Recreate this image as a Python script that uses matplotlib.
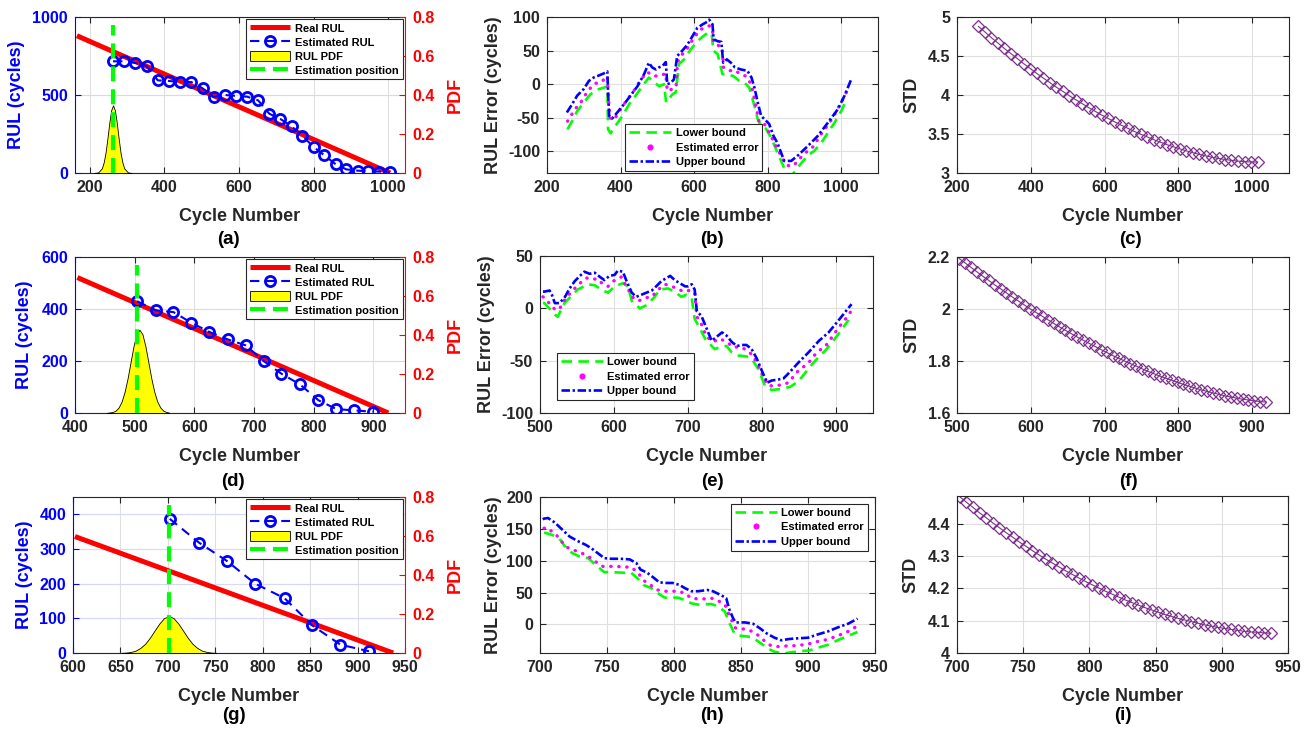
import matplotlib
matplotlib.use('Agg')
import matplotlib.pyplot as plt
from matplotlib.ticker import FuncFormatter
from matplotlib.lines import Line2D

# ---------------- data ----------------
# (a)
real_a_x = [165, 1005]
real_a_y = [880, 0]
est_a_x = [262, 292, 322, 352, 382, 412, 442, 472, 502, 532, 562, 592, 622, 651, 681,
           711, 741, 770, 800, 829, 859, 888, 918, 947, 976, 1005]
est_a_y = [716, 716, 705, 686, 594, 590, 583, 583, 543, 487, 500, 494, 489, 466, 380,
           346, 299, 237, 167, 113, 56, 23, 15, 11, 9, 4]
pdf_a_x = [212, 222, 232, 237, 242, 247, 252, 257, 262, 267, 272, 277, 282, 287, 292, 302, 312]
pdf_a_y = [0.0002, 0.003, 0.024, 0.055, 0.106, 0.178, 0.258, 0.322, 0.347, 0.322, 0.258,
           0.178, 0.106, 0.055, 0.024, 0.003, 0.0002]
pos_a = 262

# (d)
real_d_x = [404, 925]
real_d_y = [521, 0]
est_d_x = [504, 535, 565, 595, 625, 656, 686, 716, 746, 777, 808, 838, 868, 899]
est_d_y = [430, 395, 388, 347, 312, 283, 260, 200, 151, 110, 49, 15, 10, 5]
pdf_d_x = [453, 463, 468, 473, 478, 483, 488, 493, 498, 503, 508, 513, 518, 523, 528,
           533, 538, 543, 548, 553, 558]
pdf_d_y = [0.0005, 0.005, 0.012, 0.028, 0.058, 0.107, 0.176, 0.259, 0.342, 0.404, 0.427,
           0.404, 0.342, 0.259, 0.176, 0.107, 0.058, 0.028, 0.012, 0.005, 0.0016]
pos_d = 504

# (g)
real_g_x = [602, 937.5]
real_g_y = [336, 0]
est_g_x = [702, 733, 762, 792, 823, 852, 882, 912]
est_g_y = [387, 318, 266, 200, 158, 80, 24, 5]
pdf_g_x = [651, 656, 661, 666, 671, 676, 681, 686, 691, 696, 701, 706, 711, 716, 721,
           726, 731, 736, 741, 746, 751]
pdf_g_y = [0.0007, 0.0021, 0.0054, 0.012, 0.026, 0.047, 0.078, 0.115, 0.151, 0.179, 0.189,
           0.179, 0.151, 0.115, 0.078, 0.047, 0.026, 0.012, 0.0054, 0.0021, 0.0007]
pos_g = 701

# (b)
ub_b_x = [254, 268, 282, 300, 314, 327, 341, 354, 364, 366, 369, 377, 391, 409, 427, 446,
          464, 477, 486, 496, 504, 514, 523, 527, 536, 545, 554, 568, 582, 595, 609, 623,
          636, 641, 650, 653, 664, 674, 679, 689, 700, 711, 727, 745, 756, 764, 773, 782,
          795, 804, 816, 827, 838, 845, 864, 882, 909, 936, 964, 991, 1009, 1027]
ub_b_y = [-42, -30, -17, -7, 5, 10, 13, 16, 19, -12, -47, -51, -42, -30, -17, -3, 15, 32,
          25, 22, 25, 27, 33, 0, 2, 7, 42, 50, 59, 71, 84, 89, 93, 96, 89, 67, 64, 63, 32,
          37, 32, 25, 22, 20, 10, -5, -27, -47, -54, -59, -77, -88, -104, -114, -114, -106,
          -92, -77, -57, -37, -17, 7]
est_b_x = [256, 275, 293, 311, 329, 347, 364, 367, 371, 382, 400, 418, 436, 455, 473, 491,
           509, 523, 527, 546, 551, 555, 564, 580, 598, 616, 636, 643, 650, 653, 668, 676,
           680, 696, 709, 727, 741, 755, 764, 777, 791, 809, 827, 841, 853, 871, 886, 909,
           926, 941, 959, 977, 1000, 1014]
est_b_y = [-55, -38, -26, -10, 1, 3, 12, -20, -50, -53, -37, -23, -10, 7, 18, 12, 13, 16,
           -10, -6, -4, 33, 42, 52, 68, 81, 86, 87, 80, 62, 57, 55, 25, 20, 21, 15, 12, 0,
           -22, -57, -59, -77, -97, -111, -121, -121, -111, -99, -92, -77, -64, -50, -27, -12]
lb_b_x = [256, 271, 282, 300, 318, 336, 355, 364, 366, 373, 386, 405, 423, 441, 459, 477,
          491, 505, 518, 524, 541, 550, 559, 573, 591, 609, 626, 638, 648, 652, 664, 677,
          691, 707, 723, 736, 750, 764, 773, 782, 795, 809, 823, 838, 850, 858, 868, 886,
          909, 927, 946, 964, 982, 1000, 1014]
lb_b_y = [-67, -52, -40, -27, -15, -8, -5, -3, -67, -73, -62, -47, -30, -17, -3, 10, 3, -3,
          0, -27, -15, -12, 30, 37, 52, 64, 72, 77, 75, 50, 45, 15, 15, 12, 5, 3, -5, -32,
          -52, -62, -66, -79, -97, -116, -131, -136, -134, -121, -106, -99, -87, -72, -57,
          -40, -23]

# (e)
ub_e_x = [504, 506, 513, 516, 520, 526, 533, 540, 547, 554, 560, 567, 574, 581, 587, 594,
          601, 605, 612, 617, 624, 630, 637, 644, 651, 657, 664, 671, 676, 682, 689, 696,
          700, 705, 709, 712, 718, 725, 732, 739, 746, 752, 759, 766, 773, 779, 786, 793,
          800, 807, 813, 822, 829, 836, 849, 863, 877, 890, 904, 913, 921]
ub_e_y = [16, 16, 17, 13, 5, 5, 10, 19, 26, 31, 35, 33, 34, 30, 27, 31, 32, 36, 35, 26, 15,
          11, 13, 15, 17, 21, 26, 29, 31, 27, 24, 21, 21, 23, 18, -3, -7, -19, -31, -27,
          -23, -26, -32, -36, -35, -35, -39, -48, -60, -71, -69, -68, -67, -62, -52, -42,
          -31, -23, -11, -3, 4]
est_e_x = [504, 506, 520, 526, 535, 544, 554, 563, 569, 578, 585, 592, 599, 610, 615, 626,
           633, 642, 651, 660, 669, 678, 685, 694, 701, 705, 709, 712, 718, 725, 734, 743,
           752, 761, 770, 777, 788, 795, 802, 809, 818, 827, 836, 847, 863, 874, 886, 895,
           904, 913, 920]
est_e_y = [11, 10, -1, -1, 10, 17, 24, 29, 28, 28, 23, 21, 26, 30, 23, 10, 7, 10, 11, 18,
           23, 21, 19, 16, 17, 15, 15, -8, -15, -27, -32, -29, -32, -37, -37, -39, -45, -55,
           -66, -74, -74, -73, -71, -61, -52, -42, -36, -27, -18, -10, -3]
lb_e_x = [504, 506, 520, 524, 533, 551, 565, 574, 585, 592, 601, 612, 619, 624, 635, 644,
          655, 662, 673, 682, 691, 698, 705, 709, 716, 723, 736, 743, 752, 759, 768, 779,
          786, 795, 804, 813, 827, 838, 849, 858, 867, 876, 886, 895, 904, 913, 917]
lb_e_y = [5, 5, -6, -8, 5, 18, 23, 22, 17, 15, 21, 24, 21, 7, 0, 3, 11, 18, 19, 16, 11, 13,
          10, -10, -19, -29, -39, -37, -36, -42, -45, -46, -48, -58, -74, -78, -77, -75, -70,
          -62, -54, -47, -40, -32, -24, -15, -11]

# (h)
ub_h_x = [702, 703, 706, 711, 714, 718, 722, 728, 734, 738, 743, 748, 753, 760, 767, 772,
          775, 780, 785, 789, 794, 799, 804, 808, 813, 818, 825, 829, 835, 839, 841, 844,
          846, 853, 859, 864, 869, 875, 880, 886, 892, 900, 907, 915, 922, 930, 937]
ub_h_y = [165, 166, 167, 160, 154, 146, 138, 131, 125, 120, 112, 104, 103, 103, 102, 96, 86,
          81, 73, 66, 65, 65, 62, 57, 52, 52, 54, 52, 46, 41, 25, 10, 3, 3, 1, -6, -14, -21,
          -25, -23, -22, -21, -16, -11, -5, 1, 9]
est_h_x = [703, 705, 712, 716, 721, 726, 731, 736, 741, 747, 752, 757, 763, 768, 773, 778,
           783, 788, 793, 798, 803, 808, 813, 818, 823, 828, 833, 838, 841, 846, 851, 856,
           861, 867, 872, 877, 882, 887, 892, 897, 902, 907, 912, 917, 922, 927, 932, 937]
est_h_y = [151, 152, 141, 130, 120, 116, 112, 107, 99, 91, 91, 91, 90, 90, 81, 68, 61, 54,
           52, 52, 52, 49, 41, 40, 40, 41, 37, 31, 15, -6, -7, -9, -14, -25, -33, -35, -34,
           -34, -33, -32, -30, -27, -25, -22, -18, -14, -9, -2]
lb_h_x = [703, 707, 712, 716, 718, 724, 729, 736, 741, 748, 753, 763, 768, 773, 777, 783,
          788, 793, 803, 808, 813, 818, 828, 833, 838, 841, 845, 850, 858, 865, 870, 875,
          881, 887, 895, 901, 907, 915, 922, 930, 937]
lb_h_y = [144, 142, 138, 131, 124, 112, 107, 104, 94, 82, 82, 81, 81, 72, 62, 57, 49, 42,
          42, 38, 33, 31, 32, 28, 20, 4, -14, -18, -20, -30, -38, -43, -46, -44, -42, -41,
          -37, -32, -25, -18, -12]

# (c), (f), (i)
std_c_x = [258, 276, 293, 311, 328, 346, 364, 381, 399, 416, 434, 452, 469, 487, 504, 522,
           540, 557, 575, 592, 610, 628, 645, 663, 680, 698, 716, 733, 751, 768, 786, 804,
           821, 839, 856, 874, 892, 909, 927, 944, 962, 980, 997, 1015]
std_c_y = [4.880, 4.807, 4.736, 4.666, 4.598, 4.531, 4.465, 4.401, 4.338, 4.277, 4.217,
           4.158, 4.101, 4.046, 3.992, 3.939, 3.888, 3.838, 3.790, 3.743, 3.699, 3.655,
           3.613, 3.573, 3.534, 3.497, 3.462, 3.428, 3.396, 3.365, 3.337, 3.310, 3.285,
           3.261, 3.240, 3.220, 3.202, 3.187, 3.173, 3.162, 3.152, 3.145, 3.141, 3.140]
std_f_x = [503, 511, 519, 527, 535, 543, 551, 559, 567, 575, 583, 591, 599, 607, 615, 623,
           631, 639, 647, 655, 663, 671, 679, 687, 695, 703, 711, 719, 727, 735, 743, 751,
           759, 767, 775, 783, 791, 799, 807, 815, 823, 831, 839, 847, 855, 863, 871, 879,
           887, 895, 903, 911, 919]
std_f_y = [2.194, 2.177, 2.160, 2.143, 2.126, 2.110, 2.093, 2.078, 2.062, 2.046, 2.031,
           2.016, 2.001, 1.987, 1.973, 1.959, 1.945, 1.931, 1.918, 1.905, 1.892, 1.880,
           1.868, 1.856, 1.844, 1.833, 1.821, 1.811, 1.800, 1.790, 1.780, 1.770, 1.760,
           1.751, 1.742, 1.734, 1.726, 1.718, 1.710, 1.703, 1.696, 1.689, 1.683, 1.677,
           1.672, 1.666, 1.662, 1.657, 1.653, 1.650, 1.647, 1.644, 1.642]
std_i_x = [702, 707, 712, 717, 722, 727, 732, 737, 742, 747, 752, 757, 762, 767, 772, 777,
           782, 787, 792, 797, 802, 807, 812, 817, 822, 827, 832, 837, 842, 847, 852, 857,
           862, 867, 872, 877, 882, 887, 892, 897, 902, 907, 912, 917, 922, 927, 932, 937]
std_i_y = [4.483, 4.466, 4.450, 4.433, 4.418, 4.402, 4.387, 4.372, 4.358, 4.343, 4.330,
           4.316, 4.303, 4.290, 4.278, 4.266, 4.254, 4.243, 4.232, 4.221, 4.211, 4.201,
           4.191, 4.182, 4.173, 4.164, 4.156, 4.148, 4.140, 4.133, 4.126, 4.119, 4.113,
           4.107, 4.102, 4.097, 4.092, 4.087, 4.083, 4.079, 4.076, 4.073, 4.070, 4.067,
           4.065, 4.064, 4.062, 4.061]

# ---------------- style ----------------
plt.rcParams['font.family'] = ['Liberation Sans', 'DejaVu Sans']
plt.rcParams['font.weight'] = 'bold'
plt.rcParams['axes.labelweight'] = 'bold'

W, H = 1309, 734
DARK = '#262626'
GRID = '#dfdfdf'
BLUE = '#0000ff'
RED = '#ff0000'
GREEN = '#00ff00'
MAG = '#ff00ff'
PURPLE = '#7e2f8e'
FT, FL, FG = 11.5, 13, 8

fig = plt.figure(figsize=(W / 100, H / 100), dpi=100)
fmt = FuncFormatter(lambda v, p: f'{v:g}')


def px_axes(l, r, t, b):
    return fig.add_axes([l / W, 1 - b / H, (r - l) / W, (b - t) / H])


def base_style(ax, xlim, ylim, xticks, yticks):
    ax.set_xlim(*xlim)
    ax.set_ylim(*ylim)
    ax.set_xticks(xticks)
    ax.set_yticks(yticks)
    ax.xaxis.set_major_formatter(fmt)
    ax.yaxis.set_major_formatter(fmt)
    ax.tick_params(direction='in', length=4, width=0.8, top=True, right=True,
                   labelsize=FT, colors=DARK, pad=5)
    for s in ax.spines.values():
        s.set_color(DARK)
        s.set_linewidth(0.8)
    ax.grid(True, color=GRID, linewidth=0.8)
    ax.set_axisbelow(True)
    ax.set_xlabel('Cycle Number', fontsize=FL, color=DARK, va='top')
    ax.xaxis.set_label_coords(0.5, -0.226)


def rul_panel(box, xlim, xticks, ylim, yticks, rx, ry, ex, ey, px, py, epos, ylab_x):
    ax = px_axes(*box)
    base_style(ax, xlim, ylim, xticks, yticks)
    ax.tick_params(axis='y', colors=BLUE, right=False)
    ax.yaxis.grid(True, color='#d6d6ff', linewidth=0.8)
    ax.spines['left'].set_color(BLUE)
    ax.spines['right'].set_visible(False)
    l1, = ax.plot(rx, ry, color=RED, lw=3.6, solid_capstyle='butt', zorder=3)
    l2, = ax.plot(ex, ey, color=BLUE, lw=1.5, linestyle=(0, (4.5, 3)), marker='o', ms=7.3,
                  mfc='none', mew=2, zorder=4)
    ax.set_ylabel('RUL (cycles)', fontsize=FL, color=BLUE)
    ax.yaxis.set_label_coords(ylab_x, 0.5)
    ax2 = ax.twinx()
    ax2.set_xlim(*xlim)
    ax2.set_ylim(0, 0.8)
    ax2.set_yticks([0, 0.2, 0.4, 0.6, 0.8])
    ax2.yaxis.set_major_formatter(fmt)
    ax2.tick_params(axis='y', direction='in', length=4, width=0.8, colors=RED,
                    labelsize=FT, pad=5)
    for k in ('left', 'top', 'bottom'):
        ax2.spines[k].set_visible(False)
    ax2.spines['right'].set_color(RED)
    ax2.spines['right'].set_linewidth(0.8)
    l3 = ax2.fill_between(px, 0, py, facecolor='#ffff00', edgecolor='black', linewidth=0.6)
    l4, = ax2.plot([epos, epos], [0, 0.76], color=GREEN, lw=3,
                   linestyle=(0, (3.6, 1.9)))
    ax2.set_ylabel('PDF', fontsize=FL, color=RED)
    ax2.yaxis.set_label_coords((447 - box[0]) / (box[1] - box[0]), 0.5)
    leg = ax2.legend([l1, l2, l3, l4],
                     ['Real RUL', 'Estimated RUL', 'RUL PDF', 'Estimation position'],
                     loc='upper right', bbox_to_anchor=(0.994, 0.988), borderaxespad=0,
                     fontsize=FG, fancybox=False, edgecolor=DARK, framealpha=1,
                     handlelength=3.6, handleheight=1.1, handletextpad=0.5,
                     borderpad=0.35, labelspacing=0.25)
    leg.get_frame().set_linewidth(0.8)
    return ax


def err_panel(box, xlim, xticks, ylim, yticks, lx, ly, ex, ey, ux, uy, leg_loc, leg_anchor,
              ylab_x):
    ax = px_axes(*box)
    base_style(ax, xlim, ylim, xticks, yticks)
    a, = ax.plot(lx, ly, color=GREEN, lw=1.9, linestyle=(0, (4, 2.4)))
    b, = ax.plot(ex, ey, color=MAG, lw=2.4, linestyle=(0, (0.1, 2.3)),
                 dash_capstyle='round')
    c, = ax.plot(ux, uy, color=BLUE, lw=1.9, linestyle=(0, (3.2, 1.0, 0.9, 1.0)))
    bh = Line2D([], [], linestyle='none', marker='o', ms=3.4, color=MAG)
    ax.set_ylabel('RUL Error (cycles)', fontsize=FL, color=DARK)
    ax.yaxis.set_label_coords(ylab_x, 0.5)
    leg = ax.legend([a, bh, c], ['Lower bound', 'Estimated error', 'Upper bound'],
                    loc=leg_loc, bbox_to_anchor=leg_anchor, borderaxespad=0, fontsize=FG,
                    fancybox=False, edgecolor=DARK, framealpha=1, handlelength=3.8,
                    handletextpad=0.4, borderpad=0.35, labelspacing=0.4)
    leg.get_frame().set_linewidth(0.8)
    return ax


def std_panel(box, xlim, xticks, ylim, yticks, sx, sy, ylab_x):
    ax = px_axes(*box)
    base_style(ax, xlim, ylim, xticks, yticks)
    ax.plot(sx, sy, color=PURPLE, lw=0.8, marker='D', ms=5.8, mfc='none', mew=0.9)
    ax.set_ylabel('STD', fontsize=FL, color=DARK)
    ax.yaxis.set_label_coords(ylab_x, 0.5)
    return ax


# row 1
rul_panel((75, 405, 17, 173), (160, 1045), [200, 400, 600, 800, 1000], (0, 1000),
          [0, 500, 1000], real_a_x, real_a_y, est_a_x, est_a_y, pdf_a_x, pdf_a_y, pos_a,
          -0.152)
err_panel((547, 878, 17, 173), (200, 1100), [200, 400, 600, 800, 1000], (-132, 100),
          [-100, -50, 0, 50, 100], lb_b_x, lb_b_y, est_b_x, est_b_y, ub_b_x, ub_b_y,
          'lower left', (0.236, 0.013), -0.137)
std_panel((957, 1289, 17, 173), (200, 1100), [200, 400, 600, 800, 1000], (3, 5),
          [3, 3.5, 4, 4.5, 5], std_c_x, std_c_y, -0.111)

# row 2
rul_panel((75, 405, 257, 413), (400, 953), [400, 500, 600, 700, 800, 900], (0, 600),
          [0, 200, 400, 600], real_d_x, real_d_y, est_d_x, est_d_y, pdf_d_x, pdf_d_y, pos_d,
          -0.126)
err_panel((540, 873, 256, 413), (500, 950), [500, 600, 700, 800, 900], (-100, 50),
          [-100, -50, 0, 50], lb_e_x, lb_e_y, est_e_x, est_e_y, ub_e_x, ub_e_y,
          'lower left', (0.05, 0.083), -0.135)
std_panel((957, 1289, 257, 413), (500, 950), [500, 600, 700, 800, 900], (1.6, 2.2),
          [1.6, 1.8, 2.0, 2.2], std_f_x, std_f_y, -0.111)

# row 3
rul_panel((73, 405, 497, 653), (600, 950), [600, 650, 700, 750, 800, 850, 900, 950],
          (0, 450), [0, 100, 200, 300, 400], real_g_x, real_g_y, est_g_x, est_g_y,
          pdf_g_x, pdf_g_y, pos_g, -0.12)
err_panel((540, 875, 497, 653), (700, 950), [700, 750, 800, 850, 900, 950], (-45, 200),
          [0, 50, 100, 150, 200], lb_h_x, lb_h_y, est_h_x, est_h_y, ub_h_x, ub_h_y,
          'upper right', (0.979, 0.955), -0.114)
std_panel((957, 1288, 496, 653), (700, 950), [700, 750, 800, 850, 900, 950], (4, 4.485),
          [4, 4.1, 4.2, 4.3, 4.4], std_i_x, std_i_y, -0.114)

letters = ['(a)', '(b)', '(c)', '(d)', '(e)', '(f)', '(g)', '(h)', '(i)']
letter_x = [228, 712, 1130, 233, 712, 1128, 234, 712, 1123]
letter_y = [240, 240, 240, 481, 481, 481, 716, 716, 716]
for t, x, y in zip(letters, letter_x, letter_y):
    fig.text(x / W, 1 - y / H, t, ha='center', va='center', fontsize=FL + 0.5,
             color='black')

fig.savefig('out.png', dpi=100)
